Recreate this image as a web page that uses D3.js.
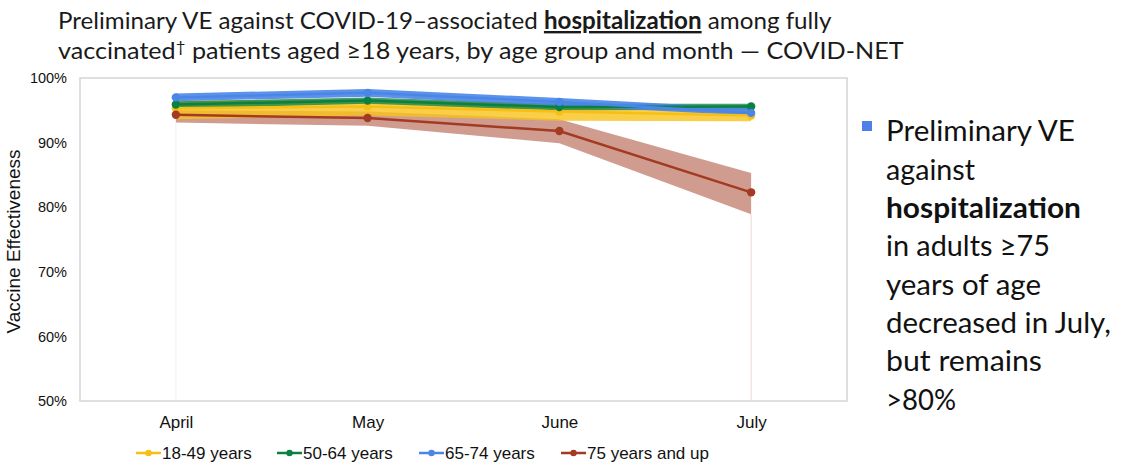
<!DOCTYPE html>
<html><head><meta charset="utf-8">
<script src="https://cdn.jsdelivr.net/npm/d3@7"></script>
<style>
html,body{margin:0;padding:0;background:#fff;}
svg{display:block;}
</style></head>
<body>
<svg id="chart" width="1121" height="465"></svg>
<script>
// ---- data ----
const months = ["April", "May", "June", "July"];
const seriesNames = ["18-49 years", "50-64 years", "65-74 years", "75 years and up"];
const ve1849 = [95.3, 95.6, 94.8, 94.2];
const lo1849 = [93.6, 94.2, 93.4, 93.3];
const hi1849 = [96.5, 96.7, 96.0, 95.2];
const ve5064 = [95.9, 96.5, 95.5, 95.6];
const lo5064 = [95.3, 96.0, 95.0, 95.1];
const hi5064 = [96.4, 97.0, 96.0, 96.0];
const ve6574 = [97.0, 97.7, 96.3, 94.6];
const lo6574 = [96.4, 97.1, 95.7, 94.2];
const hi6574 = [97.6, 98.3, 96.9, 95.3];
const ve75up = [94.3, 93.8, 91.8, 82.3];
const lo75up = [93.1, 92.6, 89.9, 78.9];
const hi75up = [95.0, 94.8, 93.6, 85.3];
const yTicks = [50, 60, 70, 80, 90, 100];
const titleLine1a = "Preliminary VE against COVID-19–associated ";
const titleBold = "hospitalization";
const titleLine1b = " among fully";
const titleLine2a = "vaccinated";
const titleDagger = "†";
const titleLine2b = " patients aged ≥18 years, by age group and month — COVID-NET";
const sideLines = [
  {t: "Preliminary VE", b: false, w: 189},
  {t: "against", b: false, w: 89},
  {t: "hospitalization", b: true, w: 195},
  {t: "in adults ≥75", b: false, w: 164},
  {t: "years of age", b: false, w: 155},
  {t: "decreased in July,", b: false, w: 225},
  {t: "but remains", b: false, w: 156},
  {t: ">80%", b: false, w: 70}
];

const series = [
  {name: seriesNames[0], v: ve1849, lo: lo1849, hi: hi1849, color: "#f7bf14", band: "#f7c21c", bandOp: 0.8},
  {name: seriesNames[1], v: ve5064, lo: lo5064, hi: hi5064, color: "#0b8043", band: "#0b8043", bandOp: 0.75},
  {name: seriesNames[2], v: ve6574, lo: lo6574, hi: hi6574, color: "#4a86e8", band: "#4a86e8", bandOp: 0.9},
  {name: seriesNames[3], v: ve75up, lo: lo75up, hi: hi75up, color: "#a33a22", band: "#a33a22", bandOp: 0.5}
];

const svg = d3.select("#chart");
const L = 80, R = 847, T = 78, B = 401;

const x = d3.scalePoint().domain(months).range([L, R]).padding(0.5);
const y = d3.scaleLinear().domain([50, 100]).range([B, T]);

function fitX(sel, x0, target) {
  const w = sel.node().getComputedTextLength();
  const s = target / w;
  sel.attr("transform", `translate(${x0},0) scale(${s},1) translate(${-x0},0)`);
}

// ---- title ----
const t1 = svg.append("text").attr("x", 58).attr("y", 29)
  .attr("font-family", "Lato").attr("font-size", 24).attr("fill", "#1a1a1a");
t1.append("tspan").text(titleLine1a);
t1.append("tspan").attr("font-weight", "bold").attr("text-decoration", "underline").text(titleBold);
t1.append("tspan").text(titleLine1b);
fitX(t1, 58, 774);
const t2 = svg.append("text").attr("x", 58).attr("y", 59)
  .attr("font-family", "Lato").attr("font-size", 24).attr("fill", "#1a1a1a");
t2.append("tspan").text(titleLine2a);
t2.append("tspan").attr("font-size", 16).attr("dy", -7).text(titleDagger);
t2.append("tspan").attr("dy", 7).text(titleLine2b);
fitX(t2, 58, 846);

// ---- frame ----
svg.append("rect").attr("x", L).attr("y", T).attr("width", R - L).attr("height", B - T)
  .attr("fill", "#fff").attr("stroke", "#d6d6dc").attr("stroke-width", 1.6);

// faint vertical lines under bands at first & last month
svg.append("line").attr("x1", x(months[0])).attr("x2", x(months[0]))
  .attr("y1", y(lo75up[0])).attr("y2", B).attr("stroke", "#f1eeee").attr("stroke-width", 1);
svg.append("line").attr("x1", x(months[3])).attr("x2", x(months[3]))
  .attr("y1", y(lo75up[3])).attr("y2", B).attr("stroke", "#eed8d3").attr("stroke-width", 1);

// ---- y axis ----
const yAxis = d3.axisLeft(y).tickValues(yTicks).tickFormat(d => d + "%").tickSize(0).tickPadding(13);
const ya = svg.append("g").attr("transform", `translate(${L},0)`).call(yAxis);
ya.select(".domain").remove();
ya.selectAll("text").attr("font-family", "Liberation Sans, Arial").attr("font-size", 14.5).attr("fill", "#111");

svg.append("text").attr("transform", `translate(20,${(148 + 335) / 2}) rotate(-90)`)
  .attr("text-anchor", "middle").attr("font-family", "Liberation Sans, Arial").attr("font-size", 19)
  .attr("fill", "#111").text("Vaccine Effectiveness");

// ---- x axis ----
const xAxis = d3.axisBottom(x).tickSize(0).tickPadding(15);
const xa = svg.append("g").attr("transform", `translate(0,${B})`).call(xAxis);
xa.select(".domain").remove();
xa.selectAll("text").attr("font-family", "Liberation Sans, Arial").attr("font-size", 17).attr("fill", "#111");

// ---- bands ----
const area = d3.area().x((d, i) => x(months[i])).y0(d => y(d[0])).y1(d => y(d[1]));
const bandOrder = [3, 0, 1, 2];
bandOrder.forEach(k => {
  const s = series[k];
  svg.append("path").datum(s.lo.map((l, i) => [l, s.hi[i]]))
    .attr("d", area).attr("fill", s.band).attr("fill-opacity", s.bandOp);
});

// ---- lines ----
const line = d3.line().x((d, i) => x(months[i])).y(d => y(d));
series.forEach(s => {
  svg.append("path").datum(s.v).attr("d", line).attr("fill", "none")
    .attr("stroke", s.color).attr("stroke-width", 2.5);
  svg.selectAll(null).data(s.v).enter().append("circle")
    .attr("cx", (d, i) => x(months[i])).attr("cy", d => y(d)).attr("r", 4.2).attr("fill", s.color);
});

// ---- legend ----
const legX = [136, 277, 419, 561];
const legY = 453;
series.forEach((s, k) => {
  const g = svg.append("g").attr("transform", `translate(${legX[k]},${legY})`);
  g.append("line").attr("x1", 0).attr("x2", 25).attr("y1", 0).attr("y2", 0)
    .attr("stroke", s.color).attr("stroke-width", 2.5);
  g.append("circle").attr("cx", 12.5).attr("cy", 0).attr("r", 3.2).attr("fill", s.color);
  g.append("text").attr("x", 26).attr("y", 6).attr("font-family", "Liberation Sans, Arial")
    .attr("font-size", 17).attr("fill", "#111").text(s.name);
});

// ---- side text ----
svg.append("rect").attr("x", 862).attr("y", 121).attr("width", 10).attr("height", 10).attr("fill", "#4f7fe8");
sideLines.forEach((ln, i) => {
  const t = svg.append("text").attr("x", 886).attr("y", 141.5 + i * 38.3)
    .attr("font-family", "Lato").attr("font-size", 29).attr("fill", "#111")
    .attr("font-weight", ln.b ? "bold" : "normal").text(ln.t);
  fitX(t, 886, ln.w);
});
</script>
</body></html>
